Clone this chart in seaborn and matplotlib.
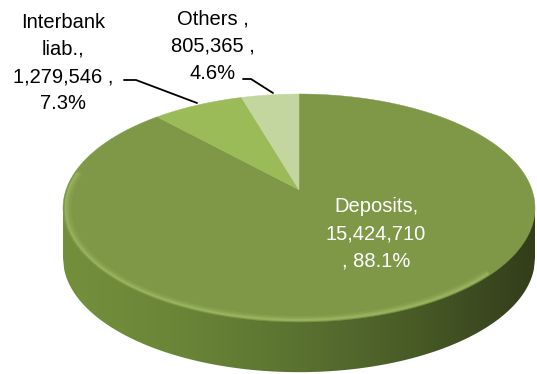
import numpy as np
import matplotlib
matplotlib.use("Agg")
import matplotlib.pyplot as plt
from matplotlib.patches import Polygon
import seaborn as sns

# Funding structure
categories = ["Deposits", "Interbank liab.", "Others"]
amounts = [15424710, 1279546, 805365]
shares = [88.1, 7.3, 4.6]
label_texts = ["Deposits,\n15,424,710\n, 88.1%",
               "Interbank\nliab.,\n1,279,546 ,\n7.3%",
               "Others ,\n805,365 ,\n4.6%"]

sns.set_theme(style="white")
plt.rcParams["font.family"] = ["Liberation Sans", "DejaVu Sans"]

top_colors = ["#7f9848", "#9bbb59", "#c4d6a0"]
side_palette = sns.blend_palette(["#748f3c", "#6a8537", "#5a7230", "#485a26", "#323d1b"],
                                 n_colors=256)

W, H = 537, 374
fig = plt.figure(figsize=(W / 100, H / 100), dpi=100)
ax = fig.add_axes([0, 0, 1, 1])

# ellipse geometry in pixels -> unit-pie data coordinates
cx, cy, a, b = 299, 208, 236, 114
thick = 0.44
tilt = 0.16  # perspective: the disc centre appears shifted towards the back


def persp(x, y, c=tilt):
    """Projective map keeping the unit circle, moving its centre to (0, c)."""
    d = 1 + c * y
    return x * np.sqrt(1 - c ** 2) / d, (y + c) / d


ax.set_xlim(-cx / a, (W - cx) / a)
ax.set_ylim((cy - H) / b, cy / b)
ax.axis("off")

# top face: slices clockwise from 12 o'clock
fractions = np.array(amounts, dtype=float) / np.sum(amounts)
bounds = 90 - 360 * np.concatenate([[0], np.cumsum(fractions)])
for k, col in enumerate(top_colors):
    th = np.radians(np.linspace(bounds[k], bounds[k + 1], 400))
    rx, ry = persp(np.cos(th), np.sin(th))
    ox, oy = persp(0.0, 0.0)
    verts = np.vstack([[(ox, oy)], np.column_stack([rx, ry]), [(ox, oy)]])
    ax.add_patch(Polygon(verts, closed=True, facecolor=col, edgecolor=col,
                         linewidth=0.3, zorder=3))

# side wall of the front half, shaded left to right
xs = np.linspace(-1, 1, 400)
ytop = -np.sqrt(np.clip(1 - xs ** 2, 0, None))
side_verts = np.vstack([np.column_stack([xs, ytop + 0.01]),
                        np.column_stack([xs[::-1], ytop[::-1] - thick])])
side = Polygon(side_verts, closed=True, facecolor="none", edgecolor="none")
ax.add_patch(side)
grad = np.array(side_palette)[None, :, :]
img = ax.imshow(grad, extent=(-1, 1, -1 - thick - 0.05, 0.05), aspect="auto",
                interpolation="bilinear", zorder=1)
img.set_clip_path(side)
ax.set_xlim(-cx / a, (W - cx) / a)
ax.set_ylim((cy - H) / b, cy / b)

# soft bevel along the front rim of the top face
t = np.linspace(np.pi * 0.9, np.pi * 1.8, 300)
for r, lw, al in [(0.978, 4.0, 0.15), (0.985, 2.6, 0.28), (0.99, 1.3, 0.4)]:
    ax.plot(r * np.cos(t), (r - 0.008) * np.sin(t), color="#a8c46c", lw=lw,
            alpha=al, solid_capstyle="round", zorder=4)


def px(x, y):
    return ((x - cx) / a, (cy - y) / b)


fs = 14.5
ax.text(*px(376, 234), label_texts[0], color="white", fontsize=fs,
        ha="center", va="center", linespacing=1.55, zorder=6)
ax.text(*px(63, 63), label_texts[1], color="black", fontsize=fs,
        ha="center", va="center", linespacing=1.55, zorder=6)
ax.text(*px(213, 46), label_texts[2], color="black", fontsize=fs,
        ha="center", va="center", linespacing=1.55, zorder=6)

# leader lines
for pts in ([(124, 80), (136, 80), (197, 103)],
            [(243, 79), (251, 79), (273, 93)]):
    xy = np.array([px(x, y) for x, y in pts])
    ax.plot(xy[:, 0], xy[:, 1], color="black", lw=1.3, zorder=6)

fig.savefig("out.png", dpi=100)
